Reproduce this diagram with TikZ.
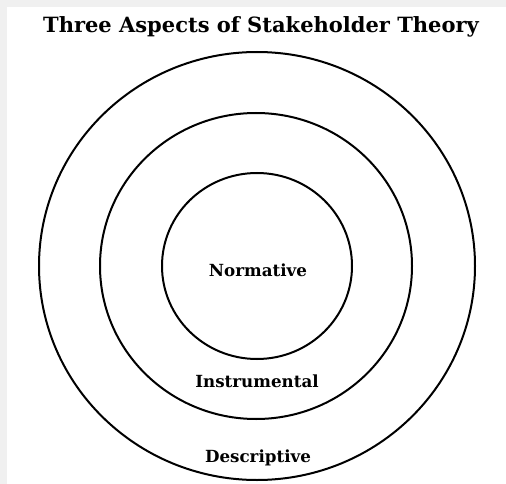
\documentclass[tikz,border=0pt]{standalone}
\usepackage{fontspec}
\setmainfont{DejaVu Serif}
\usetikzlibrary{positioning}

\begin{document}
\begin{tikzpicture}[x=1pt, y=-1pt,
    ring/.style={line width=2pt},
    lbl/.style={anchor=base, font=\bfseries\fontsize{16.7}{19}\selectfont}]
    % Page, with its grey edge
    \fill[black!6] (0,0) rectangle (506,484);
    \fill[white] (7,7) rectangle (506,484);
    \useasboundingbox (0,0) rectangle (506,484);

    % Title
    \node[anchor=base, font=\bfseries\fontsize{21}{24}\selectfont] (title) at (261,33) {Three Aspects of Stakeholder Theory};

    % The three rings
    \draw[ring] (257,266) ellipse [x radius=218, y radius=214];
    \draw[ring] (256,266) ellipse [x radius=156, y radius=153];
    \draw[ring] (257,266) ellipse [x radius=95, y radius=93];

    % Ring labels
    \node[lbl] (normative) at (258,276) {Normative};
    \node[lbl] (instrumental) at (257,387) {Instrumental};
    \node[lbl] (descriptive) at (258,462) {Descriptive};
\end{tikzpicture}
\end{document}
